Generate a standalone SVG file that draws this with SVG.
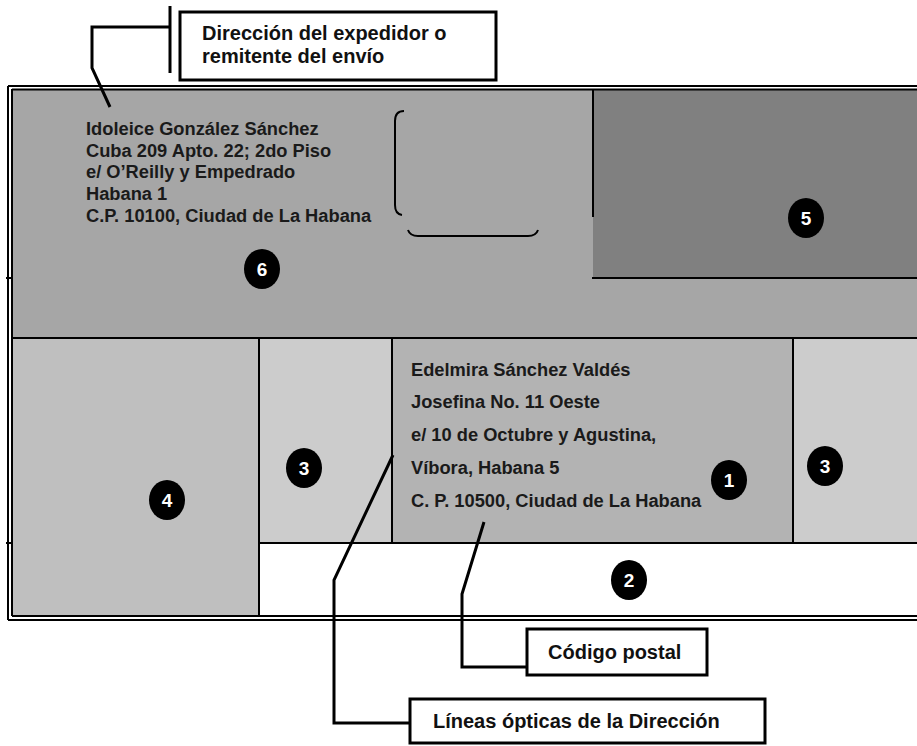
<svg xmlns="http://www.w3.org/2000/svg" width="917" height="746" viewBox="0 0 917 746">
<style>
.t{font-family:"Liberation Sans",Arial,sans-serif;font-weight:bold;font-size:18.3px;fill:#1a1a1a}
.l{font-family:"Liberation Sans",Arial,sans-serif;font-weight:bold;font-size:20px;fill:#111}
.n{font-family:"Liberation Sans",Arial,sans-serif;font-weight:bold;font-size:19px;fill:#fff;text-anchor:middle}
.ln{stroke:#000;stroke-width:2;fill:none}
.ld{stroke:#000;stroke-width:3;fill:none}
.box{fill:#fff;stroke:#000;stroke-width:3}
</style>
<rect width="917" height="746" fill="#fff"/>
<g id="envelope">
<rect x="12" y="89" width="910" height="249" fill="#a6a6a6"/>
<rect x="593" y="89" width="330" height="189" fill="#808080"/>
<rect x="12" y="338" width="247" height="278" fill="#bfbfbf"/>
<rect x="259" y="338" width="133" height="205" fill="#cccccc"/>
<rect x="392" y="338" width="401" height="205" fill="#b3b3b3"/>
<rect x="793" y="338" width="130" height="205" fill="#cccccc"/>
<rect x="259" y="543" width="664" height="73" fill="#fff"/>
<path class="ln" d="M8 86H917M12 89.5H917M8 86V620M12 89V616M8 620H917M12 616H917"/>
<path class="ln" d="M12 338H917M259 338V616M392 338V543M793 338V543M259 543H917M593 89V217M592 278H917"/>
<path class="ln" d="M6 278H12M6 543H12"/>
</g>
<g id="stamp-mark">
<path class="ln" d="M404 111Q395 111 395 121V205Q395 214 402 215"/>
<path class="ln" d="M408 230Q410 236 418 236H528Q536 236 538 230"/>
</g>
<g id="sender">
<text class="t" x="86" y="135">Idoleice González Sánchez</text>
<text class="t" x="86" y="156.7">Cuba 209 Apto. 22; 2do Piso</text>
<text class="t" x="86" y="178.3">e/ O’Reilly y Empedrado</text>
<text class="t" x="86" y="200">Habana 1</text>
<text class="t" x="86" y="221.7">C.P. 10100, Ciudad de La Habana</text>
</g>
<g id="recipient">
<text class="t" x="411" y="375.5">Edelmira Sánchez  Valdés</text>
<text class="t" x="411" y="408">Josefina No. 11 Oeste</text>
<text class="t" x="411" y="441">e/ 10 de Octubre y Agustina,</text>
<text class="t" x="411" y="474">Víbora, Habana 5</text>
<text class="t" x="411" y="506.5">C. P. 10500, Ciudad de La Habana</text>
</g>
<g id="num1"><ellipse cx="729" cy="480" rx="18" ry="20"/><text class="n" x="729" y="487">1</text></g>
<g id="num2"><ellipse cx="629" cy="580" rx="18" ry="20"/><text class="n" x="629" y="587">2</text></g>
<g id="num3a"><ellipse cx="304" cy="468" rx="18" ry="20"/><text class="n" x="304" y="475">3</text></g>
<g id="num3b"><ellipse cx="825" cy="466" rx="18" ry="20"/><text class="n" x="825" y="473">3</text></g>
<g id="num4"><ellipse cx="167" cy="500" rx="18" ry="20"/><text class="n" x="167" y="507">4</text></g>
<g id="num5"><ellipse cx="806" cy="218" rx="18" ry="20"/><text class="n" x="806" y="225">5</text></g>
<g id="num6"><ellipse cx="262" cy="269" rx="18" ry="20"/><text class="n" x="262" y="276">6</text></g>
<g id="connectors">
<path class="ld" d="M170 27H92V68L110 107"/>
<path class="ld" d="M170 6V73"/>
<path class="ld" d="M393 455L334 580V723H410"/>
<path class="ld" d="M484 522L462 594V667H535"/>
</g>
<g id="label-sender">
<rect class="box" x="180" y="12" width="316" height="68"/>
<text class="l" x="202" y="40">Dirección del expedidor o</text>
<text class="l" x="202" y="63">remitente del envío</text>
</g>
<g id="label-postal">
<rect class="box" x="527" y="629" width="180" height="46"/>
<text class="l" x="548" y="659">Código postal</text>
</g>
<g id="label-lines">
<rect class="box" x="410" y="699" width="355" height="44"/>
<text class="l" x="433" y="728">Líneas ópticas de la Dirección</text>
</g>
</svg>
